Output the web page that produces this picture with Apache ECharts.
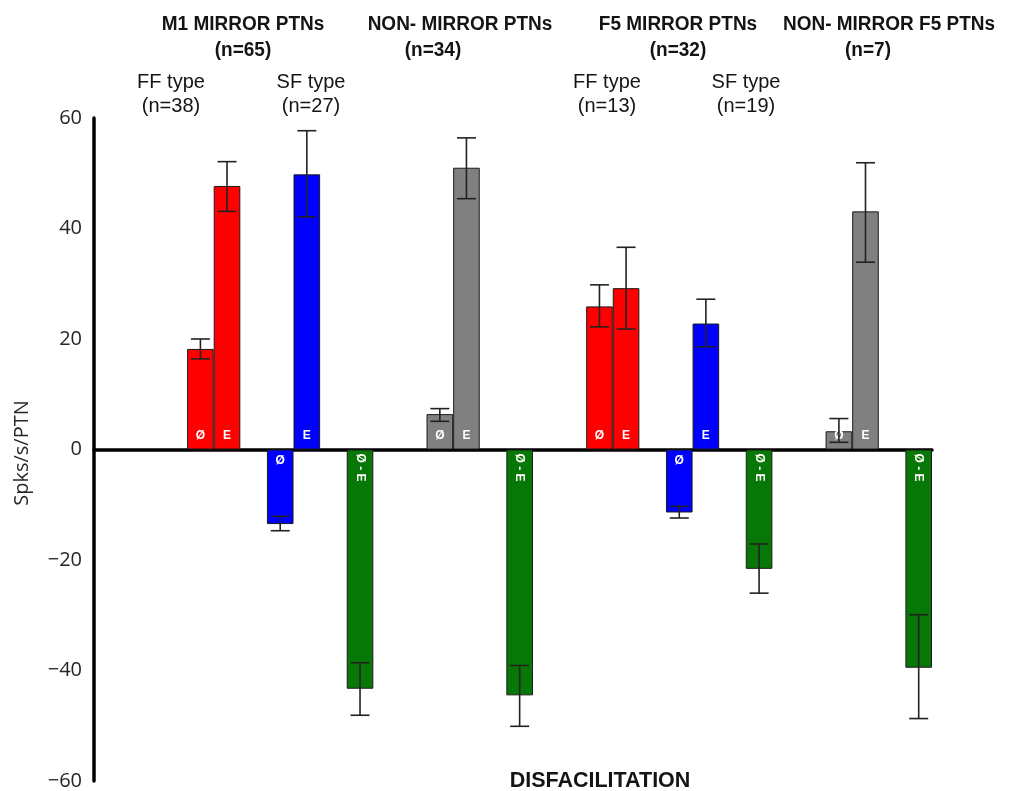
<!DOCTYPE html>
<html>
<head>
<meta charset="utf-8">
<script src="https://cdn.jsdelivr.net/npm/echarts@6/dist/echarts.min.js"></script>
<style>
html,body{margin:0;padding:0;background:#fff;}
#chart{width:1019px;height:791px;}
</style>
</head>
<body>
<div id="chart"></div>
<script>
// ---- data ----
const categories = ['Ø','E','','Ø','E','','Ø - E','','','Ø','E','','Ø - E','','','Ø','E','','Ø','E','','Ø - E','','','Ø','E','','Ø - E'];
const kinds      = ['FF','FF','','SF','SF','','DIFF','','','NM','NM','','DIFF','','','FF','FF','','SF','SF','','DIFF','','','NM','NM','','DIFF'];
const means   = [18.2,47.7,null,-13.5,49.8,null,-43.3,null,null,6.4,51.0,null,-44.5,null,null,25.9,29.2,null,-11.4,22.8,null,-21.6,null,null,3.3,43.1,null,-39.5];
const errLow  = [16.4,43.1,null,-14.7,42.1,null,-48.1,null,null,5.1,45.4,null,-50.1,null,null,22.2,21.8,null,-12.4,18.6,null,-26.0,null,null,1.3,33.9,null,-48.7];
const errHigh = [20.0,52.1,null,-12.1,57.7,null,-38.6,null,null,7.4,56.4,null,-39.1,null,null,29.8,36.6,null,-10.3,27.2,null,-17.1,null,null,5.6,51.9,null,-29.9];
const yTicks = [-60,-40,-20,0,20,40,60];
const groupTitles = ['M1 MIRROR PTNs','NON- MIRROR PTNs','F5 MIRROR PTNs','NON- MIRROR F5 PTNs'];
const groupCounts = ['(n=65)','(n=34)','(n=32)','(n=7)'];
const subTitles = ['FF type','SF type','FF type','SF type'];
const subCounts = ['(n=38)','(n=27)','(n=13)','(n=19)'];
const xTitle = 'DISFACILITATION';
const yTitle = 'Spks/s/PTN';

// ---- styles ----
const kindColor = {FF:'#ff0000', SF:'#0000ff', NM:'#808080', DIFF:'#077807'};
const sans = '"Liberation Sans", Arial, sans-serif';
const tickFont = '"Open Sans", sans-serif';

const barData = [];
const errData = [];
categories.forEach((c, i) => {
  if (means[i] === null) return;
  const v = means[i];
  const isDiff = kinds[i] === 'DIFF';
  let label;
  if (isDiff) {
    label = {show:true, formatter:c, position:'insideTop', rotate:-90, align:'left', verticalAlign:'middle', distance:4, fontSize:12};
  } else if (v >= 0) {
    label = {show:true, formatter:c, position:'insideBottom', distance:8};
  } else {
    label = {show:true, formatter:c, position:'insideTop', distance:5};
  }
  barData.push({value:[i, v], itemStyle:{color:kindColor[kinds[i]]}, label});
  errData.push([i, errLow[i], errHigh[i]]);
});

const chart = echarts.init(document.getElementById('chart'), null, {renderer:'canvas'});

const titleGraphics = [];
const gTitleX = [243, 460, 678, 889];
const gCountX = [243, 433, 678, 868];
const subX = [171, 311, 607, 746];
groupTitles.forEach((t, k) => {
  titleGraphics.push({type:'text', x:gTitleX[k], y:24, scaleY:1.08, style:{text:t, font:'bold 19px ' + sans, fill:'#141414', align:'center', verticalAlign:'middle'}});
  titleGraphics.push({type:'text', x:gCountX[k], y:50, scaleY:1.08, style:{text:groupCounts[k], font:'bold 19px ' + sans, fill:'#141414', align:'center', verticalAlign:'middle'}});
});
subTitles.forEach((t, k) => {
  titleGraphics.push({type:'text', x:subX[k], y:82, style:{text:t, font:'20px ' + sans, fill:'#141414', align:'center', verticalAlign:'middle'}});
  titleGraphics.push({type:'text', x:subX[k], y:106, style:{text:subCounts[k], font:'20px ' + sans, fill:'#141414', align:'center', verticalAlign:'middle'}});
});
titleGraphics.push({type:'text', x:600, y:781, style:{text:xTitle, font:'bold 21.5px ' + sans, fill:'#141414', align:'center', verticalAlign:'middle'}});
titleGraphics.push({type:'text', x:22, y:453, rotation:Math.PI/2, style:{text:yTitle, font:'20px ' + tickFont, fill:'#262626', align:'center', verticalAlign:'middle'}});

chart.setOption({
  animation:false,
  backgroundColor:'#fff',
  grid:{left:94, right:87, top:118, bottom:7, containLabel:false},
  xAxis:{
    type:'value', min:-4, max:27.5,
    axisLine:{show:true, onZero:true, lineStyle:{color:'#000', width:3.5}},
    axisTick:{show:false}, axisLabel:{show:false}, splitLine:{show:false}
  },
  yAxis:{
    type:'value', min:yTicks[0], max:yTicks[yTicks.length-1], interval:20,
    axisLine:{show:true, onZero:false, lineStyle:{color:'#000', width:3.5}},
    axisTick:{show:false}, splitLine:{show:false},
    axisLabel:{margin:12, fontSize:20, fontFamily:tickFont, color:'#262626',
      formatter:v => v < 0 ? '\u2212' + (-v) : String(v)}
  },
  series:[
    {
      type:'bar', data:barData, barWidth:26.6,
      itemStyle:{borderColor:'#1a1a1a', borderWidth:1},
      label:{color:'#fff', fontWeight:'bold', fontSize:12, fontFamily:sans},
      z:2
    },
    {
      type:'custom', data:errData, z:5,
      renderItem:(params, api) => {
        const x = api.value(0);
        const lo = api.coord([x, api.value(1)]);
        const hi = api.coord([x, api.value(2)]);
        const hw = 9.5;
        const st = {stroke:'#222', lineWidth:1.6};
        return {type:'group', children:[
          {type:'line', shape:{x1:lo[0], y1:lo[1], x2:hi[0], y2:hi[1]}, style:st},
          {type:'line', shape:{x1:lo[0]-hw, y1:lo[1], x2:lo[0]+hw, y2:lo[1]}, style:st},
          {type:'line', shape:{x1:hi[0]-hw, y1:hi[1], x2:hi[0]+hw, y2:hi[1]}, style:st}
        ]};
      }
    }
  ],
  graphic:titleGraphics
});
</script>
</body>
</html>
